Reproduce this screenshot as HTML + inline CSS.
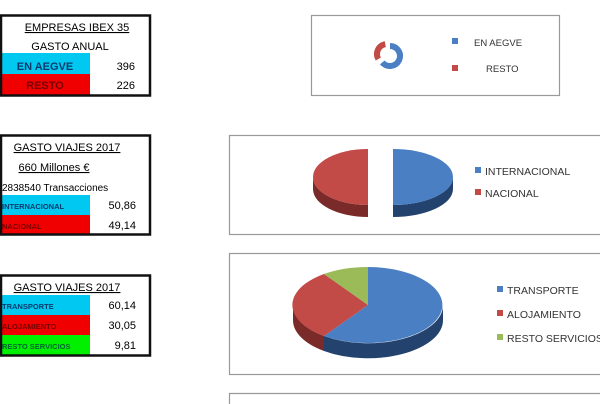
<!DOCTYPE html>
<html><head><meta charset="utf-8"><style>
html,body{margin:0;width:600px;height:404px;background:#fff;overflow:hidden;font-family:"Liberation Sans",sans-serif}
svg{display:block}
</style></head><body>
<svg width="600" height="404" viewBox="0 0 600 404" xmlns="http://www.w3.org/2000/svg" font-family="Liberation Sans, sans-serif" font-weight="bold">
<rect x="0" y="53" width="90" height="21" fill="#00c8f0"/>
<rect x="0" y="74" width="90" height="21" fill="#f00000"/>
<rect x="1" y="15.5" width="149" height="80" fill="none" stroke="#111" stroke-width="2.5"/>
<text x="77" y="31" font-size="11" text-anchor="middle" font-weight="normal" text-decoration="underline">EMPRESAS IBEX 35</text>
<text x="70" y="50" font-size="11" text-anchor="middle" font-weight="normal">GASTO  ANUAL</text>
<text x="45" y="70" font-size="11" text-anchor="middle" fill="#0a3a6a">EN AEGVE</text>
<text x="45" y="89" font-size="11" text-anchor="middle" fill="#700">RESTO</text>
<text x="135" y="70" font-size="11" text-anchor="end" font-weight="normal">396</text>
<text x="135" y="89" font-size="11" text-anchor="end" font-weight="normal">226</text>
<rect x="0" y="195" width="90" height="20" fill="#00c8f0"/>
<rect x="0" y="215" width="90" height="20" fill="#f00000"/>
<rect x="1" y="135.5" width="149" height="99" fill="none" stroke="#111" stroke-width="2.5"/>
<text x="67" y="151" font-size="11" text-anchor="middle" font-weight="normal" text-decoration="underline">GASTO  VIAJES  2017</text>
<text x="54" y="171" font-size="11" text-anchor="middle" font-weight="normal" text-decoration="underline">660 Millones €</text>
<text x="2" y="191" font-size="10" font-weight="normal">2838540 Transacciones</text>
<text x="2" y="209" font-size="7.5" fill="#0a3a6a">INTERNACIONAL</text>
<text x="2" y="229" font-size="7.5" fill="#700">NACIONAL</text>
<text x="136" y="209" font-size="11" text-anchor="end" font-weight="normal">50,86</text>
<text x="136" y="229" font-size="11" text-anchor="end" font-weight="normal">49,14</text>
<rect x="0" y="295" width="90" height="20" fill="#00c8f0"/>
<rect x="0" y="315" width="90" height="20" fill="#f00000"/>
<rect x="0" y="335" width="90" height="20" fill="#00f000"/>
<rect x="1" y="275.5" width="149" height="80" fill="none" stroke="#111" stroke-width="2.5"/>
<text x="67" y="291" font-size="11" text-anchor="middle" font-weight="normal" text-decoration="underline">GASTO  VIAJES  2017</text>
<text x="2" y="309" font-size="7.5" fill="#0a3a6a">TRANSPORTE</text>
<text x="2" y="329" font-size="7.5" fill="#700">ALOJAMIENTO</text>
<text x="2" y="349" font-size="7.5" fill="#063">RESTO SERVICIOS</text>
<text x="136" y="309" font-size="11" text-anchor="end" font-weight="normal">60,14</text>
<text x="136" y="329" font-size="11" text-anchor="end" font-weight="normal">30,05</text>
<text x="136" y="349" font-size="11" text-anchor="end" font-weight="normal">9,81</text>
<rect x="311.5" y="15.5" width="248" height="80" fill="#fff" stroke="#999" stroke-width="1.2"/>
<path d="M390,46 A10,10 0 1 1 382.3,62.4" fill="none" stroke="#4a7fc4" stroke-width="6"/>
<path d="M378.3,59 A10,10 0 0 1 385.3,44.2" fill="none" stroke="#c24a47" stroke-width="6"/>
<rect x="452" y="38" width="6" height="6" fill="#4a7fc4"/>
<rect x="452" y="65" width="6" height="6" fill="#c24a47"/>
<text x="474" y="46" font-size="9.5" fill="#333" font-weight="normal">EN AEGVE</text>
<text x="486" y="72" font-size="9.5" fill="#333" font-weight="normal">RESTO</text>
<rect x="229.5" y="135.5" width="372" height="99" fill="#fff" stroke="#999" stroke-width="1.2"/>
<path d="M313,177 L313,189 A55,28 0 0 0 368,217 L368,205 A55,28 0 0 1 313,177Z" fill="#7a2a28"/>
<path d="M368,149 A55,28 0 0 0 368,205 Z" fill="#c24a47"/>
<path d="M453,177 L453,189 A60,28 0 0 1 393,217 L393,205 A60,28 0 0 0 453,177Z" fill="#23436e"/>
<path d="M393,149 A60,28 0 0 1 393,205 Z" fill="#4a7fc4"/>
<rect x="475" y="167" width="6" height="6" fill="#4a7fc4"/>
<rect x="475" y="189" width="6" height="6" fill="#c24a47"/>
<text x="485" y="175" font-size="10.5" fill="#333" font-weight="normal">INTERNACIONAL</text>
<text x="485" y="197" font-size="10.5" fill="#333" font-weight="normal">NACIONAL</text>
<rect x="229.5" y="253.5" width="372" height="121" fill="#fff" stroke="#999" stroke-width="1.2"/>
<path d="M293,305 L293,320 A75,38 0 0 0 324,351 L324,336 A75,38 0 0 1 293,305Z" fill="#7a2a28"/>
<path d="M443,305 L443,320 A75,38 0 0 1 324,351 L324,336 A75,38 0 0 0 443,305Z" fill="#23436e"/>
<path d="M368,305 L368,267 A75,38 0 1 1 324,336 Z" fill="#4a7fc4"/>
<path d="M368,305 L324,336 A75,38 0 0 1 324,274 Z" fill="#c24a47"/>
<path d="M368,305 L324,274 A75,38 0 0 1 368,267 Z" fill="#9bbb59"/>
<rect x="497" y="286" width="6" height="6" fill="#4a7fc4"/>
<rect x="497" y="310" width="6" height="6" fill="#c24a47"/>
<rect x="497" y="334" width="6" height="6" fill="#9bbb59"/>
<text x="507" y="294" font-size="10.5" fill="#333" font-weight="normal">TRANSPORTE</text>
<text x="507" y="318" font-size="10.5" fill="#333" font-weight="normal">ALOJAMIENTO</text>
<text x="507" y="342" font-size="10.5" fill="#333" font-weight="normal">RESTO SERVICIOS</text>
<path d="M229.5,404 L229.5,393.5 L600,393.5" fill="none" stroke="#999" stroke-width="1.2"/>
</svg>
</body></html>
